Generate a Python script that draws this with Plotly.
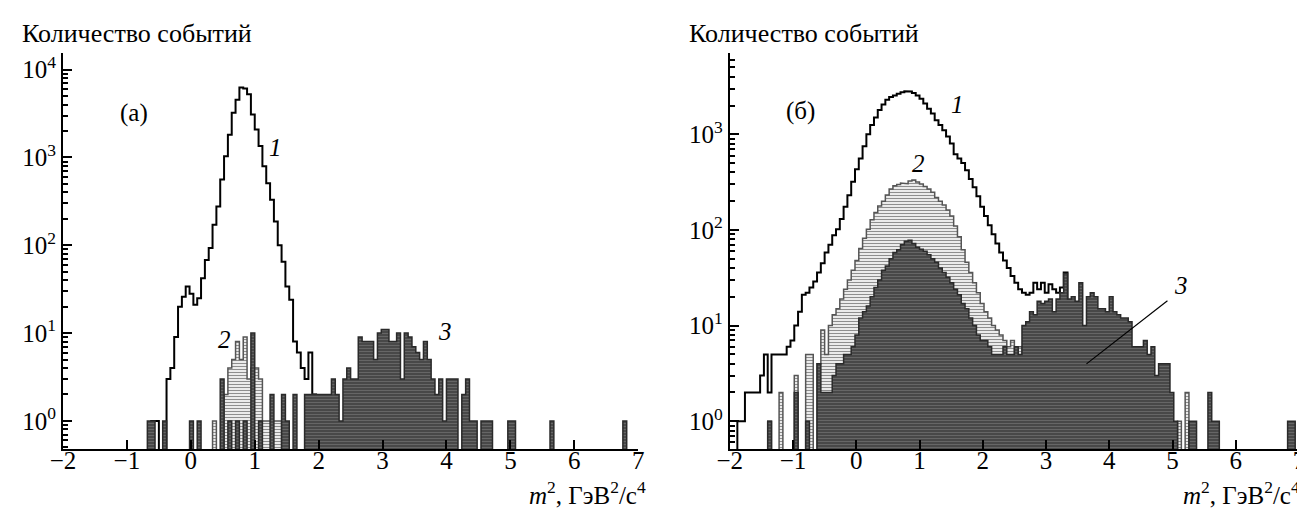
import plotly.graph_objects as go

FONT = "Liberation Serif, Times New Roman, serif"
BIN = 0.06  # bin width in GeV^2/c^4

# ---------------- Panel (а) ----------------
A1_START = -0.62
A1 = [1, 1, 0, 0, 3, 4, 9, 20, 26, 34,
      28, 21, 25, 42, 68, 93, 171, 276, 560, 1030,
      1820, 3230, 4560, 6270, 6100, 5250, 3090, 2090, 1350, 795,
      510, 330, 187, 100, 65, 34, 24, 8, 6, 4,
      3, 6, 2]

A2_START = 0.34
A2 = [1, 0, 0, 2, 4, 5, 8, 5, 9, 3,
      4, 4, 3, 1, 1, 1, 1, 1, 0, 0,
      0, 0, 0, 0, 0, 0, 2]

A3_START = -0.68
A3 = [1, 1, 0, 0, 1, 0, 0, 0, 0, 0,
      0, 1, 0, 1, 0, 0, 0, 0, 0, 3,
      0, 1, 0, 1, 0, 1, 0, 10, 0, 1,
      0, 0, 2, 0, 0, 2, 1, 0, 2, 0,
      0, 2, 2, 2, 2,
      2, 2, 2, 3, 2, 1, 3, 4, 3, 3,
      9, 8, 8, 8, 5, 10, 11, 11, 8, 8,
      10, 3, 10, 9, 7, 6, 5, 8, 5, 3,
      2, 3, 1, 3, 3, 3, 0, 2, 3, 1,
      1, 0, 1, 1, 1, 0,
      0, 0, 0, 1, 1,
      0, 0, 0, 0, 0, 0, 0, 0, 0,
      1,
      0, 0, 0, 0, 0, 0, 0, 0, 0, 0, 0, 0, 0, 0, 0, 0, 0, 0,
      1]

# ---------------- Panel (б) ----------------
B1_START = -1.88
B1 = [1, 1, 2, 2, 2, 2, 3, 5, 2, 5,
      5, 5, 5, 6, 7, 10, 14, 21, 22, 25,
      29, 36, 45, 58, 70, 88, 102, 130, 175, 230,
      320, 430, 560, 750, 1000, 1250, 1500, 1800, 2050, 2300,
      2450, 2550, 2650, 2750, 2820, 2800, 2700, 2550, 2350, 2100,
      1850, 1650, 1400, 1250, 1100, 950, 800, 620, 560, 500,
      420, 340, 280, 225, 175, 140, 112, 90, 72, 58,
      48, 40, 33, 28, 24, 22, 21, 22, 28, 24,
      28, 22, 27, 24, 22, 25, 36]

B2_START = -1.40
B2 = [1, 0, 0, 2, 0, 0, 0, 3, 0, 0,
      5, 5, 0, 4, 9, 5, 10, 13, 15, 19,
      24, 30, 38, 48, 64, 82, 102, 128, 152, 178,
      200, 232, 268, 290, 298, 310, 305, 325, 332, 318,
      302, 285, 268, 248, 218, 200, 182, 162, 140, 110,
      85, 62, 46, 36, 28, 22, 17, 14, 12, 10,
      9, 8, 7, 6, 7, 5, 6, 5, 4, 4,
      3, 3, 2, 2,
      0, 0, 0, 0, 0, 0, 0, 0, 0, 0,
      0, 0, 0, 0, 0, 0, 0, 0, 0, 0,
      0, 0, 0, 0, 0, 0, 0, 0, 0, 0,
      0, 0, 0, 0,
      1, 0, 2]

B3_START = -1.40
B3 = [1, 0, 0, 0, 0, 0, 0, 2, 0, 0,
      1, 0, 0, 4, 2, 2, 2, 3, 4, 4,
      5, 5, 6, 8, 12, 14, 16, 20, 25, 30,
      38, 42, 50, 58, 62, 70, 76, 78, 72, 66,
      63, 60, 55, 50, 46, 40, 36, 32, 28, 24,
      21, 17, 15, 12, 10, 8, 7, 7, 6, 5,
      5, 5, 6, 5, 5, 6, 5, 10, 11, 14,
      13, 18, 17, 18, 19, 14, 19, 22, 35, 19,
      20, 18, 28, 10, 20, 22, 20, 15, 15, 14,
      20, 14, 13, 12, 12, 11, 6, 6, 6, 7,
      5, 6, 3, 4, 4, 4, 2, 1, 0, 0,
      0, 1, 1, 0, 0, 0, 2, 1, 1,
      0, 0, 0, 0, 0, 0, 0, 0, 0, 0, 0, 0, 0, 0, 0, 0, 0, 0,
      1, 1]

X_TICKS = [-2, -1, 0, 1, 2, 3, 4, 5, 6, 7]
X_TICKTEXT = ["\u22122", "\u22121", "0", "1", "2", "3", "4", "5", "6", "7"]
Y_TICKS = [1, 10, 100, 1000, 10000]
Y_TICKTEXT = ["10<sup>0</sup>", "10<sup>1</sup>", "10<sup>2</sup>",
              "10<sup>3</sup>", "10<sup>4</sup>"]

LABELS = [("1", 1.32, 3.11, "x", "y"), ("2", 0.52, 0.93, "x", "y"),
          ("3", 3.97, 1.02, "x", "y"), ("1", 1.60, 3.31, "x2", "y2"),
          ("2", 0.99, 2.69, "x2", "y2"), ("3", 5.14, 1.42, "x2", "y2")]
LEADER = (4.92, 10 ** 1.26, 3.64, 10 ** 0.60)


def steps(start, width, counts, floor=0.1):
    xs = [start]
    ys = [floor]
    for i, c in enumerate(counts):
        v = c if c > 0 else floor
        xs += [start + i * width, start + (i + 1) * width]
        ys += [v, v]
    xs.append(start + len(counts) * width)
    ys.append(floor)
    return xs, ys


fig = go.Figure()

HIST2_PATTERN = dict(shape="-", fillmode="replace", bgcolor="#ffffff",
                     fgcolor="#8e8e8e", size=3, solidity=0.45)
HIST3_PATTERN = dict(shape="-", fillmode="replace", bgcolor="#454545",
                     fgcolor="#666666", size=3, solidity=0.4)

for (s1, h1, s2, h2, s3, h3, xa, ya) in [
        (A1_START, A1, A2_START, A2, A3_START, A3, "x", "y"),
        (B1_START, B1, B2_START, B2, B3_START, B3, "x2", "y2")]:
    x, y = steps(s1, BIN, h1)
    fig.add_trace(go.Scatter(x=x, y=y, mode="lines",
                             line=dict(color="black", width=2),
                             hoverinfo="skip", xaxis=xa, yaxis=ya))
    x, y = steps(s2, BIN, h2)
    fig.add_trace(go.Scatter(x=x, y=y, mode="lines", fill="toself",
                             fillcolor="#ffffff", fillpattern=HIST2_PATTERN,
                             line=dict(color="#555555", width=1.5),
                             hoverinfo="skip", xaxis=xa, yaxis=ya))
    x, y = steps(s3, BIN, h3)
    fig.add_trace(go.Scatter(x=x, y=y, mode="lines", fill="toself",
                             fillcolor="#454545", fillpattern=HIST3_PATTERN,
                             line=dict(color="#2a2a2a", width=1.5),
                             hoverinfo="skip", xaxis=xa, yaxis=ya))

minor_vals = [m * 10 ** d for d in range(-1, 5) for m in range(2, 10)]

xcommon = dict(range=[-2, 7], tickmode="array", tickvals=X_TICKS,
               ticktext=X_TICKTEXT, ticks="inside", ticklen=9, tickwidth=2,
               tickcolor="black", showline=True, linecolor="black",
               linewidth=2, showgrid=False, zeroline=False,
               ticklabelstandoff=-12,
               tickfont=dict(family=FONT, size=25, color="black"))
ycommon = dict(type="log", tickmode="array", tickvals=Y_TICKS,
               ticktext=Y_TICKTEXT, ticks="inside", ticklen=9, tickwidth=2,
               tickcolor="black", showline=True, linecolor="black",
               linewidth=2, showgrid=False, zeroline=False,
               minor=dict(tickmode="array", tickvals=minor_vals,
                          ticks="inside", ticklen=5, tickwidth=1.5,
                          tickcolor="black", showgrid=False),
               tickfont=dict(family=FONT, size=25, color="black"),
               domain=[0, 1])

fig.update_layout(
    width=1305, height=508,
    margin=dict(l=55, r=8, t=45, b=67),
    paper_bgcolor="white", plot_bgcolor="white",
    showlegend=False, hovermode=False,
    font=dict(family=FONT, size=25, color="black"),
    xaxis=dict(domain=[0, 0.46538], anchor="y", **xcommon),
    yaxis=dict(range=[-0.32, 4.19], anchor="x", **ycommon),
    xaxis2=dict(domain=[0.53945, 1], anchor="y2", **xcommon),
    yaxis2=dict(range=[-0.29, 3.85], anchor="x2", **ycommon),
)

ann = []
tf = dict(family=FONT, size=25, color="black")
titlef = dict(family=FONT, size=26, color="black")
xtitlef = dict(family=FONT, size=25, color="black")
ann.append(dict(text="Количество событий", xref="paper", yref="paper",
                x=-0.0346, y=1.0505, xanchor="left", yanchor="middle",
                showarrow=False, font=titlef))
ann.append(dict(text="Количество событий", xref="paper", yref="paper",
                x=0.5048, y=1.0505, xanchor="left", yanchor="middle",
                showarrow=False, font=titlef))
xt = "<i>m</i><sup>2</sup>, ГэВ<sup>2</sup>/с<sup>4</sup>"
ann.append(dict(text=xt, xref="paper", yref="paper", x=0.4734, y=-0.156,
                xanchor="right", yanchor="bottom", showarrow=False,
                font=xtitlef))
ann.append(dict(text=xt, xref="paper", yref="paper", x=1.0024, y=-0.156,
                xanchor="right", yanchor="bottom", showarrow=False,
                font=xtitlef))
ann.append(dict(text="(а)", xref="x domain", yref="y domain", x=0.095,
                y=0.848, xanchor="left", yanchor="middle", showarrow=False,
                font=tf))
ann.append(dict(text="(б)", xref="x2 domain", yref="y2 domain", x=0.096,
                y=0.853, xanchor="left", yanchor="middle", showarrow=False,
                font=tf))
for t, xx, yy, xr, yr in LABELS:
    ann.append(dict(text="<i>" + t + "</i>", xref=xr, yref=yr, x=xx, y=yy,
                    showarrow=False, font=tf))
fig.update_layout(annotations=ann)

fig.add_shape(type="line", xref="x2", yref="y2", x0=LEADER[0], y0=LEADER[1],
              x1=LEADER[2], y1=LEADER[3], line=dict(color="black", width=1.2))

fig.write_html("out.html")
